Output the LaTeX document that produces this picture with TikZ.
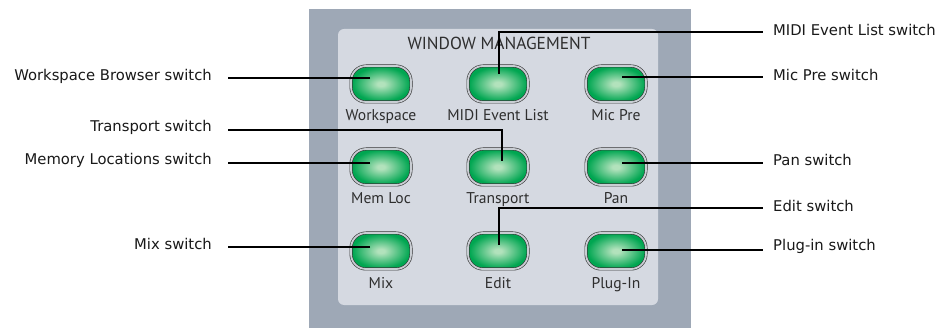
\documentclass[tikz,border=0pt]{standalone}
\usepackage{fontspec}
\setmainfont{DejaVu Sans}
\newfontfamily\panelfont{PT Sans}
\usetikzlibrary{positioning, calc}
\definecolor{casegray}{HTML}{9EA8B6}
\definecolor{facegray}{HTML}{D5D9E1}
\definecolor{ringgray}{HTML}{C9CDD3}
\definecolor{rimdark}{HTML}{363636}
\definecolor{glowin}{HTML}{B2E2BC}
\definecolor{glowout}{HTML}{00A651}
\definecolor{inkgray}{HTML}{2E2E2E}
\pgfdeclareradialshading{ledglow}{\pgfpoint{0bp}{0bp}}{color(0bp)=(glowin); color(3bp)=(glowin); color(24bp)=(glowout); color(50bp)=(glowout)}
\tikzset{
    switchbtn/.style={rectangle, rounded corners=15pt, draw=rimdark, line width=0.6pt, double=ringgray, double distance=1.8pt, minimum width=60pt, minimum height=36pt, inner sep=0pt, shading=ledglow},
    btnlabel/.style={font=\panelfont\fontsize{15.6}{18}\selectfont, text=inkgray, inner sep=0pt, anchor=base},
    callleft/.style={font=\fontsize{14.8}{18}\selectfont, text=black!90, inner sep=0pt, anchor=east},
    callright/.style={font=\fontsize{14.8}{18}\selectfont, text=black!90, inner sep=0pt, anchor=west},
    lead/.style={line width=1.8pt, black}
}
\begin{document}
\begin{tikzpicture}[x=1pt, y=-1pt]
    \useasboundingbox (0,0) rectangle (941,328);
    \fill[white] (0,0) rectangle (941,328);

    % control surface panel
    \fill[casegray] (309,9) rectangle (691,328);
    \fill[facegray, rounded corners=6pt] (338,29) rectangle (658,305);
    \node[font=\panelfont\fontsize{17.4}{20}\selectfont, text=inkgray, inner sep=0pt] (title) at (499,43) {WINDOW MANAGEMENT};

    % the nine window switches
    \foreach \name/\x/\y/\lab in {ws/381/84/Workspace, midi/498/84/MIDI Event List, mp/616/84/Mic Pre,
                                  ml/381/167/Mem Loc, tr/498/167/Transport, pn/616/167/Pan,
                                  mx/381/251/Mix, ed/498/251/Edit, pl/616/251/Plug-In}
    {
        \node[switchbtn] (\name) at (\x,\y) {};
        \node[btnlabel] (lbl\name) at (\x,\y+37) {\lab};
    }

    % callout texts
    \node[callleft] (wstxt) at (212,76) {Workspace Browser switch};
    \node[callleft] (trtxt) at (212,127) {Transport switch};
    \node[callleft] (mltxt) at (212,160) {Memory Locations switch};
    \node[callleft] (mxtxt) at (212,244) {Mix switch};
    \node[callright] (miditxt) at (773,30) {MIDI Event List switch};
    \node[callright] (mptxt) at (773,75) {Mic Pre switch};
    \node[callright] (pntxt) at (773,160) {Pan switch};
    \node[callright] (edtxt) at (773,206) {Edit switch};
    \node[callright] (pltxt) at (773,246) {Plug-in switch};

    % leader tips and bends
    \coordinate (wstip) at ([shift={(-11,-6)}]ws.center);
    \coordinate (mltip) at ([shift={(-11,-4)}]ml.center);
    \coordinate (mxtip) at ([shift={(-11,-4)}]mx.center);
    \coordinate (trtip) at ([shift={(4,-6)}]tr.center);
    \coordinate (trbend) at (502,130);
    \coordinate (miditip) at ([shift={(1,-10)}]midi.center);
    \coordinate (midibend) at (499,32);
    \coordinate (mptip) at ([shift={(6,-7)}]mp.center);
    \coordinate (pntip) at ([shift={(6,-4)}]pn.center);
    \coordinate (edtip) at ([shift={(1,-6)}]ed.center);
    \coordinate (edbend) at (499,208);
    \coordinate (pltip) at ([shift={(6,-1)}]pl.center);

    % leaders
    \draw[lead, shorten >=16pt] (wstip) -- (wstip -| wstxt.east);
    \draw[lead, shorten >=16pt] (mltip) -- (mltip -| mltxt.east);
    \draw[lead, shorten >=16pt] (mxtip) -- (mxtip -| mxtxt.east);
    \draw[lead, shorten >=16pt] (trtip) -- (trbend) -- (trbend -| trtxt.east);
    \draw[lead, shorten >=10pt] (miditip) -- (midibend) -- (midibend -| miditxt.west);
    \draw[lead, shorten >=10pt] (mptip) -- (mptip -| mptxt.west);
    \draw[lead, shorten >=10pt] (pntip) -- (pntip -| pntxt.west);
    \draw[lead, shorten >=10pt] (edtip) -- (edbend) -- (edbend -| edtxt.west);
    \draw[lead, shorten >=10pt] (pltip) -- (pltip -| pltxt.west);
\end{tikzpicture}
\end{document}
